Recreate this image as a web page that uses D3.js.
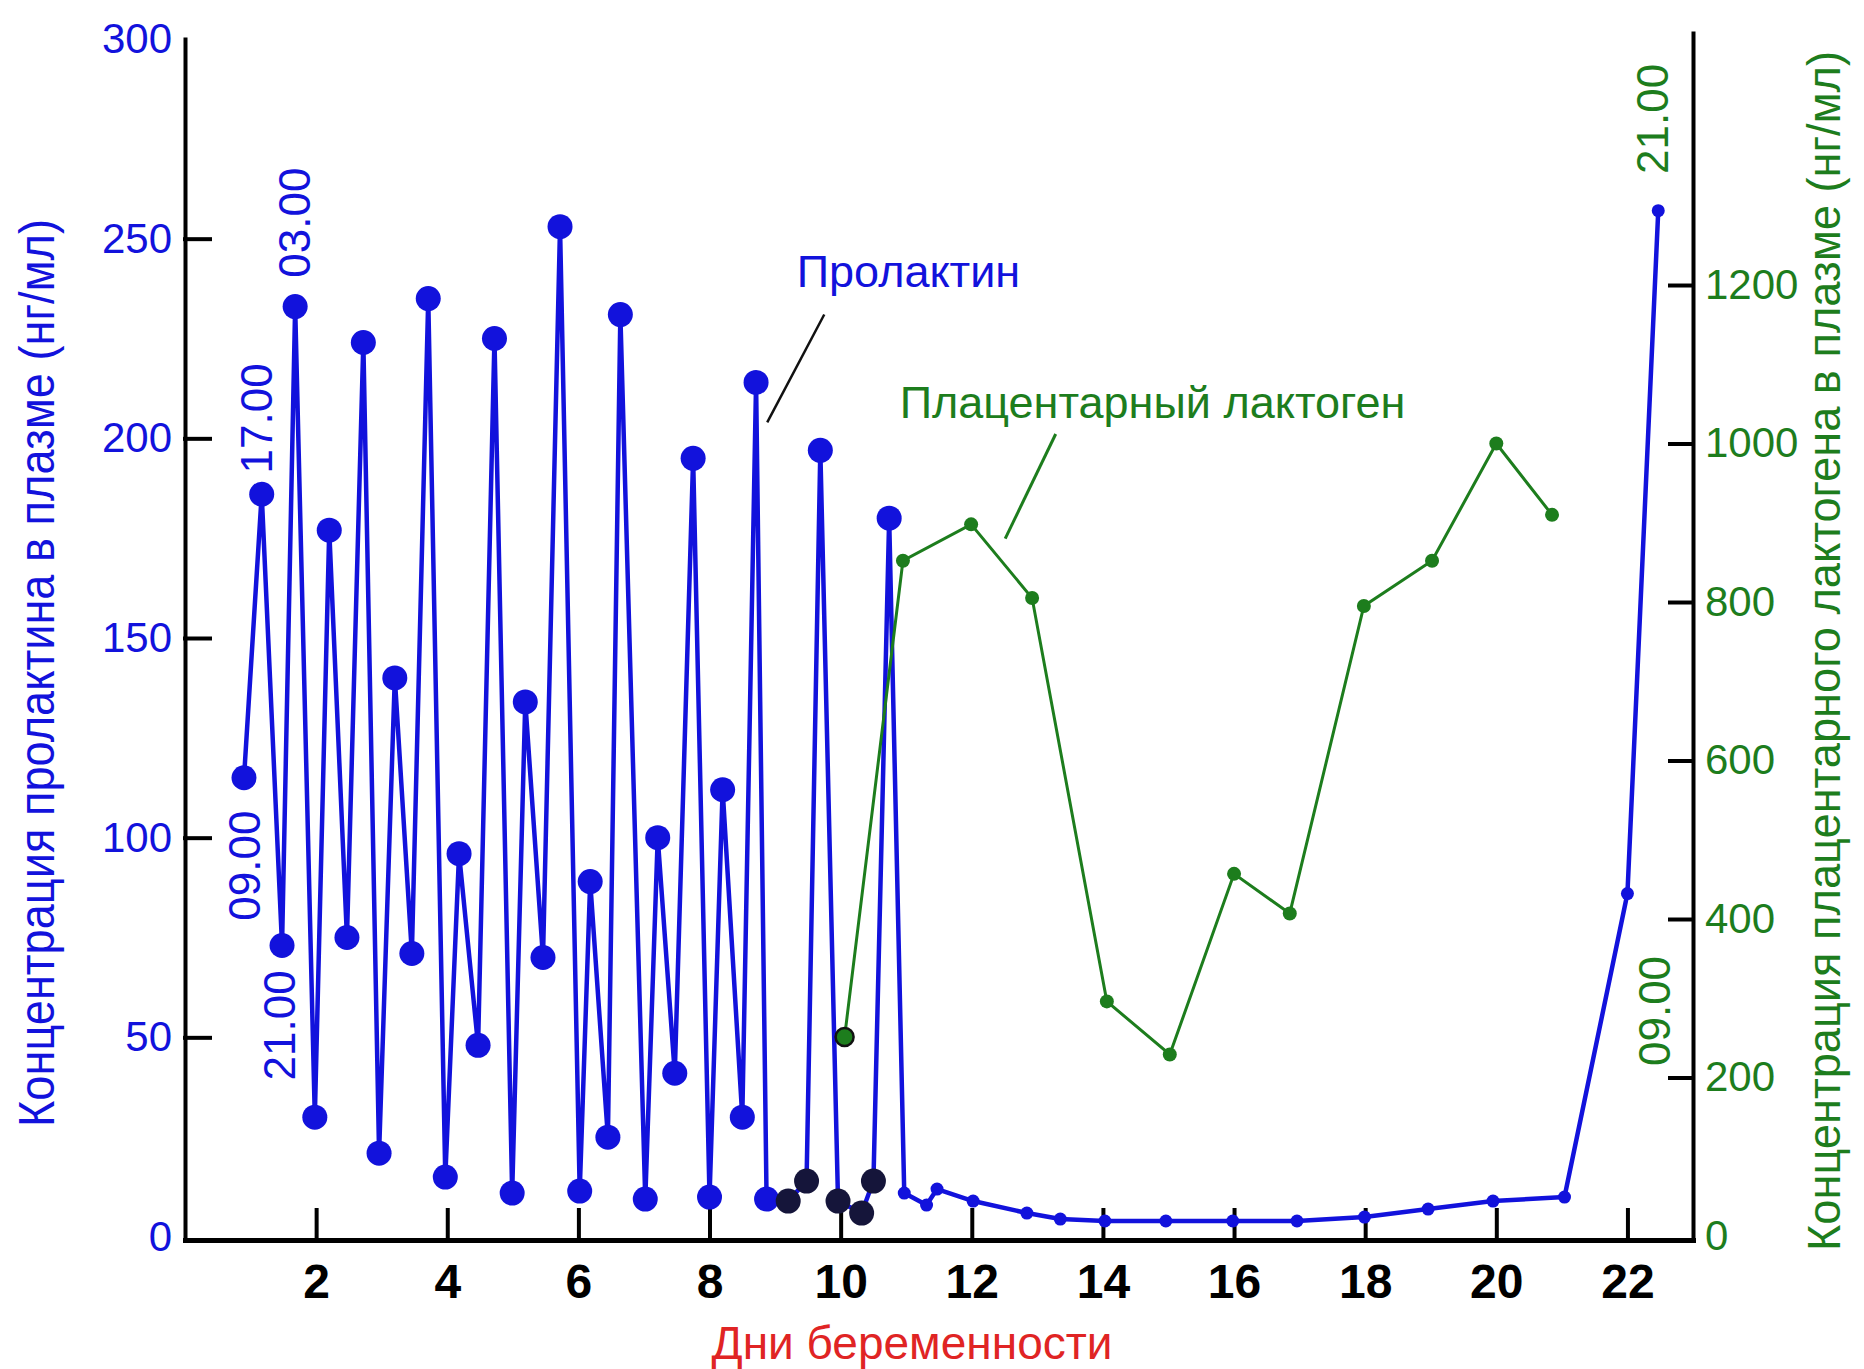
<!DOCTYPE html>
<html>
<head>
<meta charset="utf-8">
<title>Пролактин и плацентарный лактоген</title>
<script src="https://cdn.jsdelivr.net/npm/d3@7"></script>
<style>
  body { margin: 0; background: #fff; }
  svg text { font-family: "Liberation Sans", Arial, sans-serif; }
  .axis path, .axis line { stroke: #000; stroke-width: 4px; stroke-linecap: square; }
</style>
</head>
<body>
<div class="container"></div>
<script>

// пролактин, нг/мл (день беременности -> концентрация)
var prlDays = [0.9, 1.17, 1.48, 1.68, 1.98, 2.2, 2.47, 2.72, 2.96, 3.2, 3.46, 3.71, 3.97,
  4.18, 4.47, 4.72, 4.99, 5.19, 5.46, 5.72, 6.02, 6.18, 6.45, 6.64, 7.02, 7.21, 7.47, 7.75,
  8.0, 8.2, 8.5, 8.71, 8.87, 9.2, 9.48, 9.69, 9.96, 10.32, 10.5, 10.74, 10.97,
  11.31, 11.47, 12.02, 12.84, 13.35, 14.03, 14.96, 15.98, 16.96, 17.99, 18.96, 19.95, 21.04, 22.0, 22.47];
var prlValues = [115, 186, 73, 233, 30, 177, 75, 224, 21, 140, 71, 235, 15,
  96, 48, 225, 11, 134, 70, 253, 11.5, 89, 25, 231, 9.5, 100, 41, 195,
  10, 112, 30, 214, 9.5, 9, 14, 197, 9, 6, 14, 180, 11,
  8, 12, 9, 6, 4.5, 4, 4, 4, 4, 5, 7, 9, 10, 86, 257];
// samples drawn with dark markers in the original
var darkDays = [9.2, 9.48, 9.96, 10.32, 10.5];

// плацентарный лактоген, нг/мл
var plDays = [10.06, 10.95, 11.99, 12.92, 14.06, 15.02, 16.0, 16.85, 17.98, 19.02, 20.0, 20.85];
var plValues = [251, 852, 898, 805, 296, 229, 457, 407, 795, 852, 1000, 910];

var xTicks = [2, 4, 6, 8, 10, 12, 14, 16, 18, 20, 22];
var yTicks = [0, 50, 100, 150, 200, 250, 300];
var y2Ticks = [0, 200, 400, 600, 800, 1000, 1200];

var blue = "#1212dc", green = "#1d7d1d", red = "#e02424";

var svgWidth = 1864, svgHeight = 1369;
var svg = d3.select('.container').append('svg')
  .attr('width', svgWidth).attr('height', svgHeight);

var x = d3.scaleLinear().domain([0, 23]).range([185, 1693]);
var y = d3.scaleLinear().domain([0, 300]).range([1237, 39]);
var y2 = d3.scaleLinear().domain([0, 1518]).range([1236, 33]);

// axes
svg.append('g').attr('class', 'axis')
  .attr('transform', 'translate(185,0)')
  .call(d3.axisLeft(y).tickValues(yTicks).tickSizeInner(-25).tickSizeOuter(0).tickPadding(13))
  .call(g => g.selectAll('.tick line').filter(d => d == 0 || d == 300).remove())
  .call(g => g.selectAll('text').attr('fill', blue).attr('font-size', 42)
    .attr('font-family', '"Liberation Sans", Arial, sans-serif'));

svg.append('g').attr('class', 'axis')
  .attr('transform', 'translate(1693,0)')
  .call(d3.axisRight(y2).tickValues(y2Ticks).tickFormat(d3.format('d'))
    .tickSizeInner(-23).tickSizeOuter(0).tickPadding(12))
  .call(g => g.selectAll('.tick line').filter(d => d == 0).remove())
  .call(g => g.selectAll('text').attr('fill', green).attr('font-size', 42)
    .attr('font-family', '"Liberation Sans", Arial, sans-serif'));

svg.append('g').attr('class', 'axis')
  .attr('transform', 'translate(0,1240)')
  .call(d3.axisBottom(x).tickValues(xTicks).tickSizeInner(-30).tickSizeOuter(0).tickPadding(24))
  .call(g => g.select('.domain').style('stroke-width', '5px'))
  .call(g => g.selectAll('text').attr('fill', '#000').attr('font-size', 48)
    .attr('font-weight', 'bold')
    .attr('font-family', '"Liberation Sans Narrow", "Liberation Sans", Arial, sans-serif'));

// axis titles
svg.append('text')
  .attr('transform', 'translate(54,673) rotate(-90)')
  .attr('text-anchor', 'middle')
  .attr('font-size', 50)
  .attr('textLength', 908).attr('lengthAdjust', 'spacingAndGlyphs')
  .attr('fill', blue)
  .text('Концентрация пролактина в плазме (нг/мл)');

svg.append('text')
  .attr('transform', 'translate(1840,651) rotate(-90)')
  .attr('text-anchor', 'middle')
  .attr('font-size', 46)
  .attr('textLength', 1200).attr('lengthAdjust', 'spacingAndGlyphs')
  .attr('fill', green)
  .text('Концентрация плацентарного лактогена в плазме (нг/мл)');

svg.append('text')
  .attr('x', 912).attr('y', 1359)
  .attr('text-anchor', 'middle')
  .attr('font-size', 46)
  .attr('fill', red)
  .text('Дни беременности');

// prolactin line
var prl = prlDays.map((d, i) => [d, prlValues[i]]);
var pl = plDays.map((d, i) => [d, plValues[i]]);

var line = d3.line().x(d => x(d[0])).y(d => y(d[1]));
var line2 = d3.line().x(d => x(d[0])).y(d => y2(d[1]));

svg.append('path')
  .attr('d', line(prl))
  .attr('fill', 'none')
  .attr('stroke', blue)
  .attr('stroke-width', 4.5)
  .attr('stroke-linejoin', 'round');

svg.append('g').selectAll('circle')
  .data(prl)
  .enter().append('circle')
  .attr('cx', d => x(d[0]))
  .attr('cy', d => y(d[1]))
  .attr('r', d => d[0] < 10.9 ? 12.5 : 6.5)
  .attr('fill', d => darkDays.indexOf(d[0]) >= 0 ? '#15153a' : blue);

// placental lactogen
svg.append('path')
  .attr('d', line2(pl))
  .attr('fill', 'none')
  .attr('stroke', green)
  .attr('stroke-width', 3);

svg.append('g').selectAll('circle')
  .data(pl)
  .enter().append('circle')
  .attr('cx', d => x(d[0]))
  .attr('cy', d => y2(d[1]))
  .attr('r', (d, i) => i == 0 ? 9 : 7)
  .attr('fill', green)
  .attr('stroke', (d, i) => i == 0 ? '#111' : 'none')
  .attr('stroke-width', 2.5);

// annotations
svg.append('text')
  .attr('x', x(9.33)).attr('y', y(238))
  .attr('font-size', 45).attr('fill', blue)
  .text('Пролактин');
svg.append('line')
  .attr('x1', x(9.75)).attr('y1', y(231))
  .attr('x2', x(8.88)).attr('y2', y(204))
  .attr('stroke', '#111').attr('stroke-width', 2.5);

svg.append('text')
  .attr('x', x(10.9)).attr('y', y2(1032))
  .attr('font-size', 45).attr('fill', green)
  .text('Плацентарный лактоген');
svg.append('line')
  .attr('x1', x(13.28)).attr('y1', y2(1012))
  .attr('x2', x(12.51)).attr('y2', y2(880))
  .attr('stroke', green).attr('stroke-width', 3);

// sampling times
var timeText = ['09.00', '17.00', '21.00', '03.00', '21.00', '09.00'];
var timeColor = [blue, blue, blue, blue, green, green];
var timePos = [[1.14, 93], [1.33, 205], [1.68, 53], [1.91, 254], [22.62, 280], [22.65, 56.6]];

svg.append('g').selectAll('text')
  .data(timeText)
  .enter().append('text')
  .attr('transform', (d, i) => `translate(${x(timePos[i][0])},${y(timePos[i][1])}) rotate(-90)`)
  .attr('text-anchor', 'middle')
  .attr('font-size', 44)
  .attr('fill', (d, i) => timeColor[i])
  .text(d => d);

</script>
</body>
</html>
